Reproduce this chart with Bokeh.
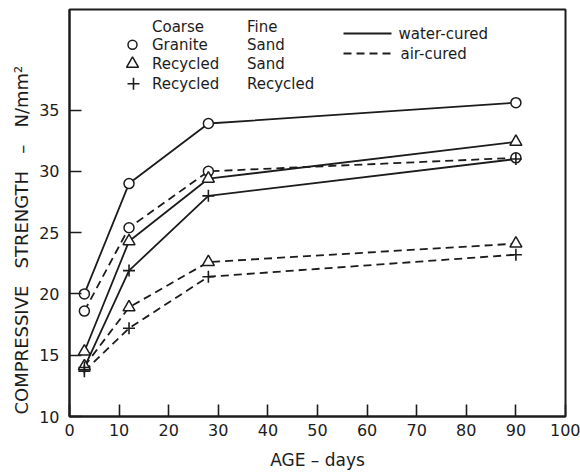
from bokeh.plotting import figure
from bokeh.models import Label, FixedTicker, Range1d, Title
from bokeh.embed import file_html
from bokeh.resources import INLINE

# ---- data ----
ages = [3, 12, 28, 90]
granite_sand_water = [20.0, 29.0, 33.9, 35.6]
granite_sand_air = [18.6, 25.4, 30.0, 31.1]
recycled_sand_water = [15.3, 24.3, 29.4, 32.4]
recycled_sand_air = [14.1, 18.9, 22.6, 24.1]
recycled_recycled_water = [14.0, 21.9, 28.0, 31.0]
recycled_recycled_air = [13.7, 17.2, 21.4, 23.2]

x_ticks = list(range(0, 101, 10))
y_ticks = [10, 15, 20, 25, 30, 35]

INK = "#1c1c1c"
FONT = "DejaVu Sans"

X0, X1 = 0, 100
Y0, Y1 = 10, 43.2
L, R, T, B = 69, 15, 9, 56
W, H = 580, 472
FW, FH = W - L - R, H - T - B

p = figure(width=W, height=H, x_range=Range1d(X0, X1), y_range=Range1d(Y0, Y1),
           output_backend="svg", toolbar_location=None,
           min_border_left=L, min_border_right=R, min_border_top=T, min_border_bottom=B)
p.background_fill_color = "white"
p.border_fill_color = "white"
p.xgrid.visible = False
p.ygrid.visible = False
p.outline_line_color = INK
p.outline_line_width = 2

for ax in (p.xaxis, p.yaxis):
    ax.axis_line_color = INK
    ax.axis_line_width = 2
    ax.major_tick_in = 12
    ax.major_tick_out = 0
    ax.major_tick_line_width = 1.6
    ax.major_tick_line_color = INK
    ax.minor_tick_line_color = None
    ax.major_label_text_font = FONT
    ax.major_label_text_font_size = "16px"
    ax.major_label_text_color = INK

p.xaxis.ticker = FixedTicker(ticks=x_ticks)
p.yaxis.ticker = FixedTicker(ticks=y_ticks)
p.xaxis.major_label_standoff = 7
p.yaxis.major_label_standoff = 10
p.xaxis.axis_label = "AGE \u2013 days"
p.xaxis.axis_label_text_font = FONT
p.xaxis.axis_label_text_font_size = "17px"
p.xaxis.axis_label_text_font_style = "normal"
p.xaxis.axis_label_text_color = INK
p.xaxis.axis_label_standoff = 11

DASH = "8 5"
series = [
    (granite_sand_water, "solid", "circle"),
    (granite_sand_air, DASH, "circle"),
    (recycled_sand_water, "solid", "triangle"),
    (recycled_sand_air, DASH, "triangle"),
    (recycled_recycled_water, "solid", "cross"),
    (recycled_recycled_air, DASH, "cross"),
]
for vals, dash, _m in series:
    p.line(ages, vals, line_color=INK, line_width=1.8, line_dash=dash)
for vals, _d, m in series:
    if m == "cross":
        p.scatter(ages, vals, marker="cross", size=12, line_color=INK, line_width=1.6)
    elif m == "circle":
        p.scatter(ages, vals, marker="circle", size=10, line_color=INK, line_width=1.5,
                  fill_color="white")
    else:
        p.scatter(ages, vals, marker="triangle", size=12, line_color=INK, line_width=1.5,
                  fill_color="white")

# ---- legend helpers: screen position -> data ----
def sx2x(sx):
    return X0 + (sx - L) / FW * (X1 - X0)

def sy2y(sy):
    return Y0 + (T + FH - sy) / FH * (Y1 - Y0)

def text_at(txt, sx, sy, size="15px"):
    p.add_layout(Label(x=sx - L, y=T + FH - sy, x_units="screen", y_units="screen",
                       text=txt, text_font=FONT, text_font_size=size,
                       text_color=INK, text_align="left", text_baseline="middle"))

key_rows = [("Coarse", "Fine", None, 26.7),
            ("Granite", "Sand", "circle", 44.3),
            ("Recycled", "Sand", "triangle", 63.3),
            ("Recycled", "Recycled", "cross", 83.3)]
for coarse, fine, marker, sy in key_rows:
    text_at(coarse, 151.5, sy)
    text_at(fine, 246.5, sy)
    if marker == "circle":
        p.scatter([sx2x(132)], [sy2y(sy)], marker="circle", size=9, line_color=INK,
                  line_width=1.5, fill_color="white")
    elif marker == "triangle":
        p.scatter([sx2x(132)], [sy2y(sy)], marker="triangle", size=12, line_color=INK,
                  line_width=1.5, fill_color="white")
    elif marker == "cross":
        p.scatter([sx2x(133)], [sy2y(sy)], marker="cross", size=12, line_color=INK,
                  line_width=1.6)

# ---- legend: line styles ----
p.segment(x0=[sx2x(343)], y0=[sy2y(33)], x1=[sx2x(391)], y1=[sy2y(33)],
          line_color=INK, line_width=1.8)
p.segment(x0=[sx2x(343)], y0=[sy2y(53)], x1=[sx2x(391)], y1=[sy2y(53)],
          line_color=INK, line_width=1.8, line_dash=DASH)
text_at("water-cured", 398, 33)
text_at("air-cured", 400, 53)

# ---- y axis title ----
GAP = "\u00a0\u00a0\u00a0"
ytitle = Title(text="COMPRESSIVE" + GAP + "STRENGTH" + GAP + "\u2013" + GAP + "N/mm\u00b2",
               align="left", offset=2, text_font=FONT, text_font_size="18px",
               text_font_style="normal", text_color=INK)
p.add_layout(ytitle, "left")

open("out.html", "w").write(file_html(p, INLINE))
